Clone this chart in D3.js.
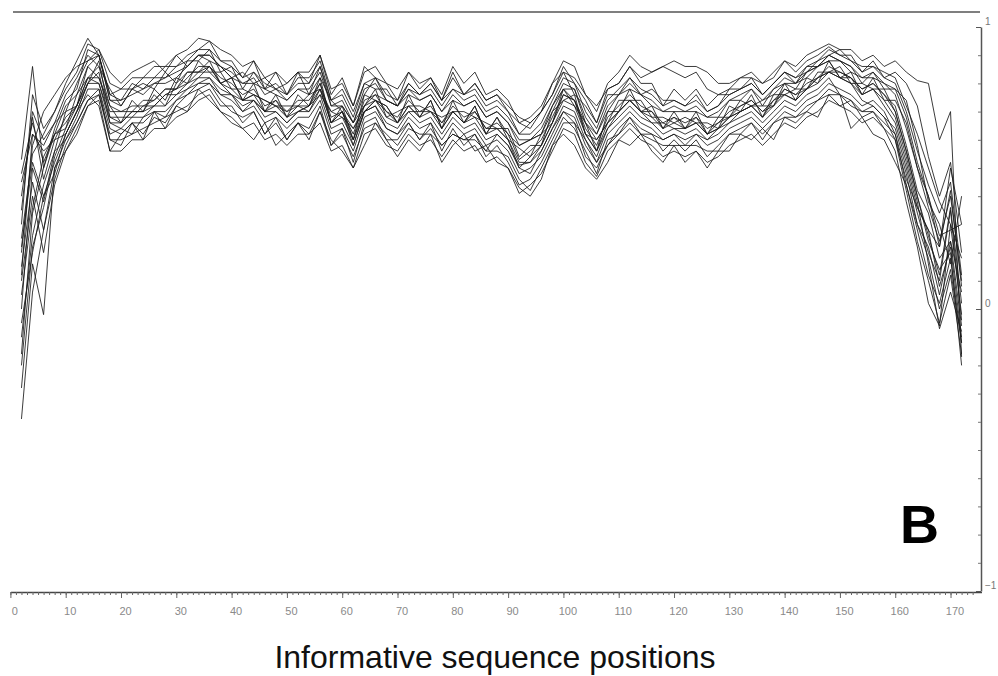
<!DOCTYPE html>
<html>
<head>
<meta charset="utf-8">
<script src="https://cdn.jsdelivr.net/npm/d3@7"></script>
<style>
  body { margin: 0; background: #fff; }
  svg { display: block; }
</style>
</head>
<body>
<div id="chart"></div>
<script>
// sequence positions sampled every 2 (2..172)
const positions = d3.range(2, 173, 2);
const xTickLabels = [0, 10, 20, 30, 40, 50, 60, 70, 80, 90, 100, 110, 120, 130, 140, 150, 160, 170];
const yTickLabels = [-1, 0, 1];

const s1 = [0.53,0.86,0.50,0.64,0.74,0.78,0.92,0.90,0.76,0.78, 0.78,0.82,0.82,0.86,0.86,0.90,0.92,0.95,0.88,0.88, 0.82,0.88,0.78,0.84,0.76,0.84,0.80,0.90,0.76,0.82, 0.72,0.86,0.82,0.80,0.74,0.84,0.78,0.82,0.74,0.84, 0.76,0.80,0.74,0.76,0.70,0.66,0.64,0.70,0.76,0.86, 0.80,0.74,0.66,0.78,0.80,0.86,0.80,0.80,0.72,0.78, 0.74,0.78,0.72,0.76,0.78,0.82,0.82,0.80,0.82,0.88, 0.84,0.88,0.90,0.93,0.90,0.90,0.84,0.88,0.82,0.84, 0.80,0.72,0.54,0.40,0.52,0.20];
const s2 = [-0.39,0.06,0.28,0.46,0.58,0.66,0.74,0.78,0.60,0.58, 0.66,0.62,0.68,0.66,0.72,0.76,0.78,0.80,0.74,0.70, 0.68,0.70,0.62,0.68,0.60,0.66,0.64,0.72,0.58,0.64, 0.52,0.66,0.68,0.60,0.60,0.66,0.60,0.66,0.56,0.64, 0.58,0.62,0.54,0.58,0.52,0.44,0.46,0.52,0.60,0.68, 0.64,0.56,0.48,0.60,0.62,0.68,0.62,0.62,0.56,0.60, 0.56,0.60,0.54,0.58,0.62,0.64,0.66,0.62,0.66,0.70, 0.68,0.72,0.74,0.78,0.76,0.72,0.70,0.70,0.66,0.62, 0.48,0.30,0.18,0.00,0.14,-0.12];
const s3 = [-0.16,0.34,0.50,0.62,0.64,0.76,0.82,0.86,0.72,0.66, 0.74,0.70,0.78,0.74,0.82,0.80,0.88,0.84,0.84,0.78, 0.78,0.76,0.74,0.72,0.72,0.72,0.76,0.78,0.70,0.68, 0.64,0.72,0.78,0.68,0.70,0.72,0.72,0.70,0.68,0.70, 0.70,0.68,0.66,0.64,0.64,0.54,0.58,0.58,0.70,0.74, 0.76,0.62,0.60,0.66,0.74,0.74,0.74,0.68,0.68,0.66, 0.68,0.66,0.66,0.64,0.72,0.70,0.76,0.68,0.76,0.76, 0.78,0.78,0.84,0.84,0.86,0.80,0.80,0.78,0.78,0.70, 0.56,0.40,0.26,0.12,0.36,0.02];
const s4 = [0.35,0.70,0.60,0.66,0.70,0.80,0.88,0.90,0.74,0.74, 0.76,0.78,0.80,0.82,0.84,0.86,0.90,0.90,0.86,0.84, 0.80,0.82,0.76,0.78,0.74,0.78,0.78,0.84,0.72,0.74, 0.66,0.78,0.80,0.74,0.72,0.78,0.74,0.76,0.70,0.76, 0.72,0.74,0.68,0.70,0.66,0.60,0.60,0.64,0.72,0.80, 0.78,0.68,0.62,0.72,0.76,0.80,0.76,0.74,0.70,0.72, 0.70,0.72,0.68,0.70,0.74,0.76,0.78,0.74,0.78,0.82, 0.80,0.84,0.86,0.90,0.88,0.86,0.82,0.84,0.80,0.76, 0.64,0.50,0.36,0.24,0.40,0.10];
const s5 = [0.10,0.40,0.20,0.44,0.56,0.64,0.72,0.74,0.56,0.56, 0.60,0.60,0.64,0.64,0.68,0.70,0.74,0.76,0.70,0.68, 0.64,0.66,0.60,0.62,0.58,0.62,0.62,0.66,0.56,0.58, 0.50,0.62,0.64,0.58,0.56,0.62,0.58,0.60,0.54,0.60, 0.56,0.58,0.52,0.54,0.50,0.41,0.44,0.48,0.56,0.64, 0.62,0.52,0.47,0.56,0.60,0.64,0.60,0.58,0.54,0.56, 0.54,0.56,0.52,0.54,0.58,0.60,0.62,0.58,0.62,0.66, 0.64,0.68,0.70,0.74,0.72,0.70,0.66,0.68,0.64,0.60, 0.42,0.24,0.10,-0.05,0.12,-0.16];
const s6 = [0.00,0.50,0.38,0.56,0.70,0.72,0.86,0.82,0.72,0.70, 0.70,0.74,0.74,0.78,0.78,0.84,0.84,0.88,0.80,0.82, 0.74,0.80,0.70,0.76,0.68,0.76,0.72,0.82,0.66,0.72, 0.60,0.76,0.74,0.72,0.66,0.76,0.68,0.74,0.64,0.74, 0.66,0.72,0.62,0.68,0.60,0.57,0.54,0.62,0.66,0.78, 0.72,0.66,0.56,0.70,0.70,0.78,0.70,0.72,0.64,0.70, 0.64,0.70,0.62,0.68,0.68,0.74,0.72,0.72,0.72,0.80, 0.74,0.82,0.80,0.88,0.82,0.84,0.76,0.82,0.74,0.74, 0.66,0.50,0.40,0.26,0.28,0.30];
const s7 = [0.45,0.62,0.56,0.60,0.62,0.70,0.80,0.80,0.66,0.64, 0.68,0.68,0.72,0.72,0.76,0.78,0.82,0.82,0.78,0.76, 0.72,0.74,0.68,0.70,0.66,0.70,0.70,0.76,0.64,0.66, 0.58,0.70,0.72,0.66,0.64,0.70,0.66,0.68,0.62,0.68, 0.64,0.66,0.60,0.62,0.58,0.51,0.52,0.56,0.64,0.72, 0.70,0.60,0.54,0.64,0.68,0.72,0.68,0.66,0.62,0.64, 0.62,0.64,0.60,0.62,0.66,0.68,0.70,0.66,0.70,0.74, 0.72,0.76,0.78,0.82,0.76,0.64,0.68,0.62,0.60,0.52, 0.44,0.30,0.22,0.05,0.24,-0.06];
const s8 = [0.30,0.76,0.64,0.70,0.78,0.84,0.94,0.92,0.80,0.78, 0.82,0.82,0.86,0.86,0.90,0.92,0.96,0.95,0.92,0.90, 0.86,0.88,0.82,0.84,0.80,0.84,0.84,0.90,0.78,0.80, 0.72,0.84,0.86,0.80,0.78,0.84,0.80,0.82,0.76,0.86, 0.80,0.84,0.76,0.78,0.74,0.66,0.68,0.72,0.80,0.88, 0.86,0.76,0.70,0.80,0.84,0.90,0.86,0.84,0.86,0.88, 0.86,0.86,0.84,0.80,0.80,0.82,0.84,0.80,0.84,0.88, 0.86,0.90,0.92,0.94,0.92,0.92,0.88,0.90,0.86,0.88, 0.84,0.81,0.80,0.60,0.70,-0.17];
const s9 = [-0.05,0.20,0.40,0.52,0.62,0.70,0.80,0.84,0.66,0.66, 0.70,0.70,0.72,0.76,0.78,0.80,0.84,0.84,0.80,0.78, 0.74,0.76,0.70,0.72,0.68,0.72,0.72,0.78,0.66,0.68, 0.60,0.72,0.74,0.68,0.66,0.72,0.68,0.70,0.64,0.70, 0.66,0.68,0.62,0.64,0.60,0.50,0.54,0.58,0.66,0.74, 0.72,0.62,0.56,0.66,0.70,0.74,0.70,0.68,0.64,0.66, 0.64,0.66,0.62,0.64,0.68,0.70,0.72,0.68,0.72,0.76, 0.74,0.78,0.80,0.84,0.82,0.80,0.76,0.78,0.74,0.68, 0.54,0.38,0.16,-0.07,0.06,-0.08];
const s10 = [0.25,0.55,0.62,0.70,0.80,0.88,0.96,0.90,0.76,0.74, 0.80,0.78,0.82,0.82,0.86,0.88,0.92,0.92,0.88,0.86, 0.82,0.84,0.78,0.80,0.76,0.80,0.80,0.86,0.74,0.76, 0.68,0.80,0.82,0.76,0.74,0.80,0.76,0.78,0.72,0.78, 0.74,0.76,0.70,0.72,0.68,0.62,0.62,0.66,0.74,0.82, 0.80,0.70,0.64,0.74,0.78,0.82,0.78,0.76,0.72,0.74, 0.72,0.74,0.70,0.72,0.76,0.78,0.80,0.76,0.80,0.84, 0.82,0.86,0.88,0.92,0.90,0.88,0.84,0.86,0.82,0.80, 0.70,0.56,0.44,0.34,0.45,0.12];
const s11 = [0.15,0.45,0.28,0.50,0.56,0.62,0.72,0.76,0.60,0.60, 0.62,0.64,0.66,0.68,0.70,0.72,0.76,0.78,0.72,0.72, 0.66,0.70,0.62,0.66,0.60,0.66,0.62,0.70,0.58,0.62, 0.54,0.64,0.66,0.62,0.58,0.64,0.62,0.62,0.58,0.62, 0.60,0.60,0.56,0.56,0.54,0.46,0.42,0.50,0.58,0.66, 0.66,0.54,0.50,0.58,0.62,0.66,0.62,0.60,0.58,0.58, 0.58,0.58,0.56,0.56,0.62,0.62,0.66,0.60,0.66,0.68, 0.68,0.70,0.74,0.76,0.76,0.74,0.70,0.72,0.68,0.64, 0.50,0.34,0.20,0.10,0.35,-0.04];
const s12 = [0.05,0.36,0.54,0.62,0.72,0.76,0.86,0.90,0.74,0.72, 0.78,0.76,0.80,0.80,0.82,0.86,0.90,0.90,0.86,0.82, 0.80,0.80,0.78,0.76,0.74,0.78,0.76,0.86,0.72,0.72, 0.66,0.76,0.82,0.74,0.72,0.76,0.74,0.76,0.70,0.74, 0.72,0.74,0.68,0.70,0.66,0.58,0.60,0.62,0.72,0.78, 0.78,0.66,0.62,0.70,0.76,0.78,0.76,0.72,0.70,0.70, 0.70,0.70,0.68,0.68,0.74,0.74,0.78,0.72,0.78,0.80, 0.80,0.82,0.86,0.88,0.88,0.84,0.82,0.82,0.80,0.78, 0.68,0.52,0.40,0.22,0.42,0.08];
const s13 = [-0.28,0.16,-0.02,0.50,0.60,0.68,0.78,0.78,0.64,0.62, 0.66,0.66,0.70,0.70,0.74,0.76,0.80,0.80,0.76,0.74, 0.70,0.72,0.66,0.68,0.64,0.68,0.68,0.74,0.62,0.64, 0.56,0.68,0.70,0.64,0.62,0.68,0.64,0.66,0.60,0.66, 0.62,0.64,0.58,0.60,0.56,0.48,0.50,0.54,0.62,0.70, 0.68,0.58,0.52,0.62,0.66,0.70,0.66,0.64,0.60,0.62, 0.60,0.62,0.58,0.60,0.64,0.66,0.68,0.64,0.68,0.72, 0.70,0.74,0.76,0.80,0.78,0.76,0.72,0.74,0.70,0.62, 0.44,0.28,0.12,0.02,0.18,-0.12];
const s14 = [0.40,0.68,0.46,0.60,0.68,0.72,0.82,0.82,0.70,0.70, 0.72,0.72,0.74,0.78,0.78,0.82,0.86,0.86,0.82,0.80, 0.76,0.78,0.72,0.74,0.70,0.74,0.74,0.80,0.68,0.70, 0.62,0.74,0.76,0.70,0.68,0.74,0.70,0.72,0.66,0.72, 0.68,0.70,0.64,0.66,0.62,0.53,0.56,0.60,0.68,0.76, 0.74,0.64,0.58,0.68,0.72,0.76,0.72,0.70,0.66,0.68, 0.66,0.68,0.64,0.66,0.70,0.72,0.74,0.70,0.74,0.78, 0.76,0.80,0.82,0.86,0.84,0.82,0.78,0.80,0.76,0.72, 0.58,0.42,0.34,0.18,0.24,0.06];
const s15 = [0.20,0.58,0.70,0.76,0.82,0.86,0.88,0.92,0.84,0.80, 0.84,0.86,0.88,0.84,0.90,0.86,0.90,0.88,0.86,0.82, 0.84,0.80,0.82,0.78,0.80,0.84,0.76,0.82,0.74,0.70, 0.64,0.70,0.72,0.64,0.62,0.66,0.60,0.64,0.58,0.62, 0.60,0.62,0.56,0.62,0.58,0.50,0.48,0.56,0.64,0.70, 0.66,0.60,0.52,0.58,0.64,0.68,0.64,0.62,0.60,0.62, 0.58,0.62,0.60,0.64,0.66,0.70,0.72,0.74,0.76,0.80, 0.78,0.84,0.86,0.88,0.82,0.80,0.74,0.72,0.68,0.60, 0.46,0.36,0.28,0.22,0.50,0.30];
const s16 = [-0.10,0.26,0.44,0.56,0.60,0.66,0.74,0.76,0.62,0.64, 0.62,0.68,0.70,0.68,0.74,0.78,0.80,0.82,0.76,0.76, 0.70,0.74,0.70,0.70,0.66,0.70,0.72,0.76,0.70,0.72, 0.66,0.72,0.76,0.74,0.72,0.78,0.76,0.80,0.74,0.82, 0.76,0.80,0.74,0.76,0.72,0.68,0.66,0.70,0.76,0.84, 0.82,0.76,0.72,0.78,0.80,0.86,0.82,0.84,0.86,0.84, 0.82,0.84,0.78,0.76,0.76,0.78,0.80,0.76,0.80,0.84, 0.82,0.84,0.88,0.90,0.92,0.88,0.86,0.86,0.84,0.82, 0.72,0.62,0.50,0.38,0.30,0.18];
const s17 = [0.22,0.52,0.40,0.48,0.62,0.70,0.76,0.72,0.56,0.62, 0.66,0.60,0.70,0.64,0.72,0.70,0.78,0.74,0.70,0.66, 0.64,0.60,0.66,0.58,0.62,0.66,0.60,0.70,0.60,0.56, 0.50,0.58,0.66,0.60,0.54,0.60,0.56,0.62,0.52,0.58, 0.62,0.56,0.58,0.52,0.50,0.43,0.40,0.46,0.58,0.62, 0.58,0.50,0.46,0.52,0.60,0.58,0.62,0.56,0.52,0.58, 0.52,0.56,0.50,0.56,0.56,0.62,0.60,0.64,0.60,0.68, 0.66,0.70,0.68,0.76,0.72,0.74,0.68,0.70,0.64,0.56, 0.38,0.22,0.02,-0.06,0.30,-0.02];
const s18 = [0.12,0.62,0.58,0.66,0.76,0.82,0.90,0.86,0.78,0.72, 0.78,0.80,0.78,0.84,0.80,0.88,0.88,0.92,0.84,0.86, 0.78,0.84,0.80,0.78,0.76,0.82,0.82,0.88,0.74,0.78, 0.70,0.80,0.78,0.78,0.72,0.80,0.76,0.80,0.74,0.78, 0.76,0.78,0.72,0.74,0.70,0.62,0.66,0.70,0.80,0.84, 0.76,0.72,0.66,0.76,0.76,0.82,0.76,0.78,0.74,0.74, 0.72,0.76,0.70,0.72,0.78,0.78,0.82,0.76,0.80,0.84, 0.80,0.86,0.86,0.90,0.88,0.86,0.80,0.84,0.78,0.78, 0.74,0.58,0.38,0.30,0.16,0.40];
const s19 = [0.48,0.66,0.52,0.62,0.66,0.72,0.80,0.88,0.68,0.66, 0.70,0.70,0.76,0.72,0.80,0.84,0.84,0.86,0.80,0.82, 0.74,0.76,0.74,0.72,0.70,0.72,0.70,0.78,0.66,0.70, 0.60,0.70,0.74,0.72,0.66,0.72,0.68,0.74,0.64,0.70, 0.66,0.72,0.62,0.68,0.62,0.58,0.60,0.62,0.70,0.78, 0.74,0.66,0.60,0.66,0.70,0.74,0.70,0.66,0.66,0.64, 0.64,0.66,0.62,0.64,0.68,0.70,0.72,0.68,0.74,0.76, 0.74,0.78,0.82,0.84,0.82,0.82,0.76,0.78,0.72,0.66, 0.52,0.36,0.28,0.08,0.22,-0.10];
const s20 = [-0.20,0.22,0.36,0.54,0.64,0.72,0.82,0.80,0.68,0.68, 0.68,0.72,0.72,0.76,0.76,0.80,0.82,0.86,0.80,0.76, 0.74,0.74,0.70,0.74,0.68,0.70,0.72,0.80,0.66,0.70, 0.58,0.70,0.74,0.70,0.66,0.70,0.70,0.70,0.66,0.70, 0.66,0.70,0.64,0.64,0.60,0.52,0.52,0.58,0.66,0.76, 0.74,0.62,0.56,0.64,0.70,0.74,0.70,0.70,0.64,0.68, 0.64,0.68,0.62,0.66,0.68,0.72,0.74,0.70,0.72,0.78, 0.76,0.78,0.82,0.84,0.84,0.82,0.78,0.80,0.76,0.70, 0.56,0.40,0.24,0.14,0.20,-0.20];

const series = [s1, s2, s3, s4, s5, s6, s7, s8, s9, s10, s11, s12, s13, s14, s15, s16, s17, s18, s19, s20];

const W = 998, H = 676;
const svg = d3.select("#chart").append("svg")
    .attr("width", W)
    .attr("height", H)
    .style("font-family", "'Liberation Sans', Arial, sans-serif");

svg.append("rect").attr("width", W).attr("height", H).attr("fill", "#fff");

// x runs a bit past 170 so the axis line meets the right axis
const x = d3.scaleLinear().domain([0, 175.6]).range([10.4, 981.5]);
const y = d3.scaleLinear().domain([-1, 1]).range([591, 27]);

// top frame line
svg.append("line")
    .attr("x1", 13).attr("x2", 980)
    .attr("y1", 12).attr("y2", 12)
    .attr("stroke", "#555")
    .attr("stroke-width", 1.5);

// profiles
const line = d3.line()
    .x((d, i) => x(positions[i]))
    .y(d => y(d));

svg.append("g")
    .selectAll("path")
    .data(series)
    .enter()
    .append("path")
    .attr("d", line)
    .attr("fill", "none")
    .attr("stroke", "#1a1a1a")
    .attr("stroke-width", 1)
    .attr("stroke-opacity", 0.85);

// bottom axis: minor ticks every position, major every 10
const xMinor = svg.append("g")
    .attr("transform", "translate(0,592)")
    .call(d3.axisBottom(x).tickValues(d3.range(0, 175)).tickSize(3).tickSizeOuter(0).tickFormat(""));
const xMajor = svg.append("g")
    .attr("transform", "translate(0,592)")
    .call(d3.axisBottom(x).tickValues(xTickLabels).tickSize(6).tickSizeOuter(0).tickPadding(9));
xMajor.select(".domain").remove();
xMinor.select(".domain").attr("stroke", "#444").attr("stroke-width", 1.3);
xMinor.selectAll(".tick line").attr("stroke", "#666");
xMajor.selectAll(".tick line").attr("stroke", "#666");
xMajor.selectAll(".tick text")
    .attr("dx", 4)
    .attr("font-size", "11px")
    .attr("fill", "#8a8a8a");

// right axis: ticks every 0.1 pointing inward, labels at -1, 0, 1
const yMinor = svg.append("g")
    .attr("transform", "translate(981,0)")
    .call(d3.axisRight(y).tickValues(d3.range(-10, 11).map(d => d / 10)).tickSize(-3).tickSizeOuter(0).tickFormat(""));
const yMajor = svg.append("g")
    .attr("transform", "translate(981,0)")
    .call(d3.axisRight(y).tickValues(yTickLabels).tickSize(-5).tickSizeOuter(0).tickPadding(4).tickFormat(d3.format("d")));
yMajor.select(".domain").remove();
yMinor.select(".domain").attr("stroke", "#555").attr("stroke-width", 1.5);
yMinor.selectAll(".tick line").attr("stroke", "#777");
yMajor.selectAll(".tick line").attr("stroke", "#555");
yMajor.selectAll(".tick text")
    .attr("font-size", "10px")
    .attr("fill", "#777")
    .attr("dy", "-0.3em");

// panel letter
svg.append("text")
    .attr("x", 900)
    .attr("y", 543)
    .attr("font-size", "54px")
    .attr("font-weight", "bold")
    .attr("fill", "#000")
    .text("B");

// x axis title
svg.append("text")
    .attr("x", 495)
    .attr("y", 668)
    .attr("text-anchor", "middle")
    .attr("font-size", "32px")
    .attr("fill", "#111")
    .text("Informative sequence positions");
</script>
</body>
</html>
